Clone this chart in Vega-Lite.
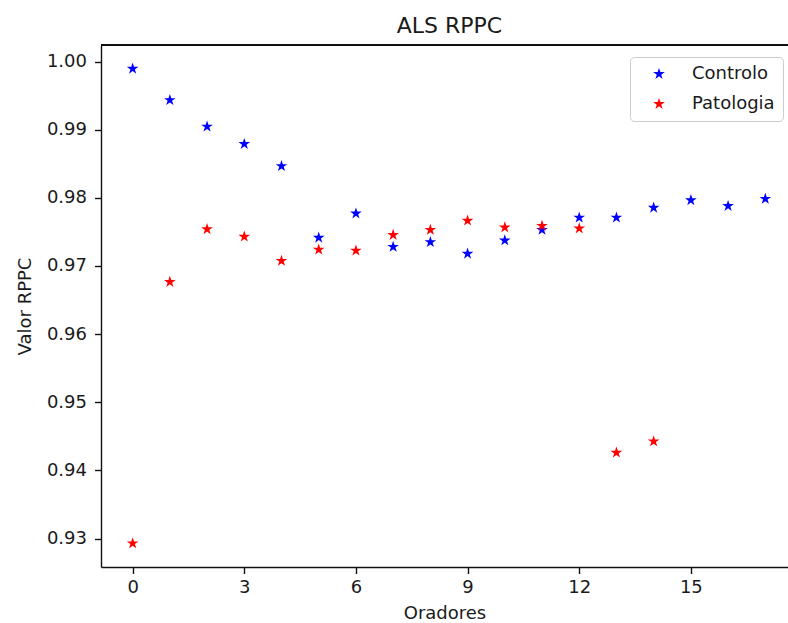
{
  "$schema": "https://vega.github.io/schema/vega-lite/v6.json",
  "autosize": {"type": "none"},
  "padding": {"left": 101, "top": 45, "right": 0, "bottom": 56},
  "width": 687,
  "height": 522,
  "background": "white",
  "title": {"text": "ALS RPPC", "font": "DejaVu Sans", "fontSize": 22, "fontWeight": "normal", "color": "#1a1a1a", "anchor": "middle", "dx": 5, "offset": 6},
  "config": {
    "view": {"stroke": null},
    "font": "DejaVu Sans",
    "axis": {"labelFont": "DejaVu Sans", "titleFont": "DejaVu Sans", "labelFontSize": 18, "titleFontSize": 18, "titleFontWeight": "normal", "labelColor": "#1a1a1a", "titleColor": "#1a1a1a", "domainColor": "#111", "tickColor": "#111", "tickSize": 6.5, "grid": false, "domainWidth": 1.4, "tickWidth": 1.4}
  },
  "data": {"values": [
    {"orador": 0, "valor": 0.99895, "grupo": "Controlo"},
    {"orador": 1, "valor": 0.99435, "grupo": "Controlo"},
    {"orador": 2, "valor": 0.99045, "grupo": "Controlo"},
    {"orador": 3, "valor": 0.9879, "grupo": "Controlo"},
    {"orador": 4, "valor": 0.98465, "grupo": "Controlo"},
    {"orador": 5, "valor": 0.97415, "grupo": "Controlo"},
    {"orador": 6, "valor": 0.9777, "grupo": "Controlo"},
    {"orador": 7, "valor": 0.9728, "grupo": "Controlo"},
    {"orador": 8, "valor": 0.9735, "grupo": "Controlo"},
    {"orador": 9, "valor": 0.9718, "grupo": "Controlo"},
    {"orador": 10, "valor": 0.97375, "grupo": "Controlo"},
    {"orador": 11, "valor": 0.9753, "grupo": "Controlo"},
    {"orador": 12, "valor": 0.9771, "grupo": "Controlo"},
    {"orador": 13, "valor": 0.9771, "grupo": "Controlo"},
    {"orador": 14, "valor": 0.97855, "grupo": "Controlo"},
    {"orador": 15, "valor": 0.97965, "grupo": "Controlo"},
    {"orador": 16, "valor": 0.9788, "grupo": "Controlo"},
    {"orador": 17, "valor": 0.97985, "grupo": "Controlo"},
    {"orador": 0, "valor": 0.9293, "grupo": "Patologia"},
    {"orador": 1, "valor": 0.96765, "grupo": "Patologia"},
    {"orador": 2, "valor": 0.9754, "grupo": "Patologia"},
    {"orador": 3, "valor": 0.9743, "grupo": "Patologia"},
    {"orador": 4, "valor": 0.97075, "grupo": "Patologia"},
    {"orador": 5, "valor": 0.9724, "grupo": "Patologia"},
    {"orador": 6, "valor": 0.97225, "grupo": "Patologia"},
    {"orador": 7, "valor": 0.97455, "grupo": "Patologia"},
    {"orador": 8, "valor": 0.9753, "grupo": "Patologia"},
    {"orador": 9, "valor": 0.97665, "grupo": "Patologia"},
    {"orador": 10, "valor": 0.97565, "grupo": "Patologia"},
    {"orador": 11, "valor": 0.9759, "grupo": "Patologia"},
    {"orador": 12, "valor": 0.9755, "grupo": "Patologia"},
    {"orador": 13, "valor": 0.9426, "grupo": "Patologia"},
    {"orador": 14, "valor": 0.94426, "grupo": "Patologia"}
  ]},
  "layer": [
    {
      "mark": {"type": "rule", "color": "#111", "strokeWidth": 1.4},
      "encoding": {"y": {"datum": 1.00243, "type": "quantitative"}}
    },
    {
      "mark": {"type": "point", "filled": true, "opacity": 1, "size": 150, "shape": "M0,-1L0.2245,-0.309L0.951,-0.309L0.363,0.118L0.588,0.809L0,0.382L-0.588,0.809L-0.363,0.118L-0.951,-0.309L-0.2245,-0.309Z"},
      "encoding": {
        "x": {"field": "orador", "type": "quantitative", "scale": {"domain": [-0.85, 17.61], "nice": false, "zero": false},
              "axis": {"title": "Oradores", "values": [0, 3, 6, 9, 12, 15], "format": "d", "labelPadding": 5, "titlePadding": 8}},
        "y": {"field": "valor", "type": "quantitative", "scale": {"domain": [0.92582, 1.00243], "nice": false, "zero": false},
              "axis": {"title": "Valor RPPC", "values": [0.93, 0.94, 0.95, 0.96, 0.97, 0.98, 0.99, 1.0], "format": ".2f", "labelPadding": 8, "titlePadding": 12}},
        "color": {"field": "grupo", "type": "nominal", "scale": {"domain": ["Controlo", "Patologia"], "range": ["#0000ff", "#ff0000"]},
                  "legend": {"title": null, "orient": "none", "legendX": 529, "legendY": 12, "labelFontSize": 18, "labelColor": "#1a1a1a", "labelFont": "DejaVu Sans", "symbolType": "M0,-1L0.2245,-0.309L0.951,-0.309L0.363,0.118L0.588,0.809L0,0.382L-0.588,0.809L-0.363,0.118L-0.951,-0.309L-0.2245,-0.309Z", "symbolSize": 150, "symbolStrokeWidth": 0, "symbolOpacity": 1, "symbolOffset": 12, "labelOffset": 24, "rowPadding": 12, "padding": 8, "strokeColor": "#cccccc", "fillColor": "white", "cornerRadius": 4, "offset": 0}}
      }
    }
  ]
}
